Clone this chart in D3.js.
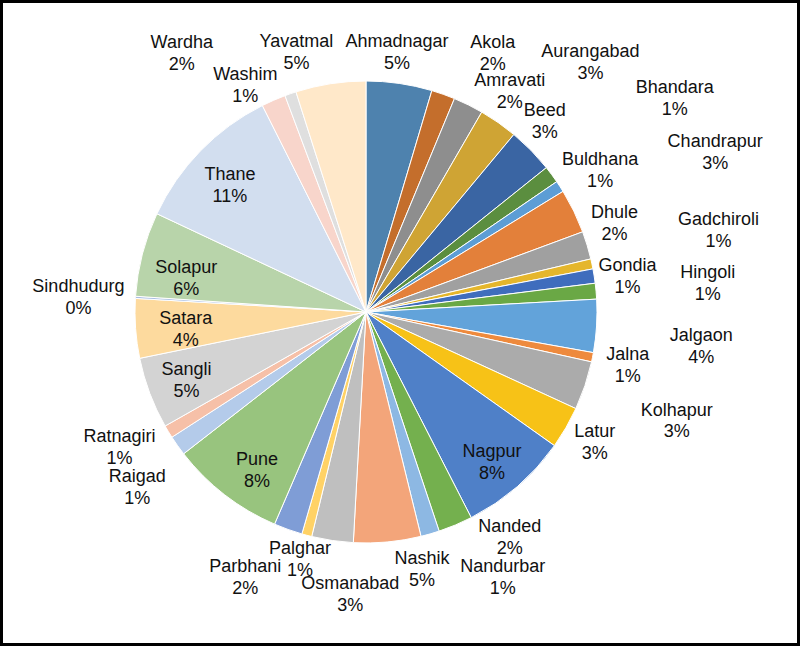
<!DOCTYPE html>
<html>
<head>
<meta charset="utf-8">
<script src="https://cdn.jsdelivr.net/npm/d3@7/dist/d3.min.js"></script>
<style>
  html, body { margin: 0; padding: 0; background: #fff; }
  svg { display: block; }
  text { font-family: "Liberation Sans", Arial, sans-serif; font-size: 18px; fill: #111; }
</style>
</head>
<body>
<svg id="chart" width="800" height="646"></svg>
<script>
// ---- data ----
const districts = ["Ahmadnagar","Akola","Amravati","Aurangabad","Beed","Bhandara","Buldhana","Chandrapur",
  "Dhule","Gadchiroli","Gondia","Hingoli","Jalgaon","Jalna","Kolhapur","Latur","Nagpur","Nanded",
  "Nandurbar","Nashik","Osmanabad","Palghar","Parbhani","Pune","Raigad","Ratnagiri","Sangli","Satara",
  "Sindhudurg","Solapur","Thane","Wardha","Washim","Yavatmal"];
const shares = [4.6,1.65,2.1,2.7,3.2,1.2,0.8,3.1,
  1.95,0.7,1.0,1.1,3.7,0.65,3.4,2.95,7.65,2.4,
  1.3,4.7,2.9,0.7,2.0,8.0,1.4,0.9,5.0,4.15,
  0.15,5.9,10.6,1.7,0.8,4.9];
const sliceColors = ["#4E82AE","#C46E2C","#8E8E8E","#CFA434","#3A65A3","#5B8E3F","#5C9DD5","#E3803A",
  "#A0A0A0","#E5B62C","#3F6DBD","#6AA845","#62A3DA","#EE8A3D","#ABABAB","#F7C217","#4F80C8","#74B04E",
  "#8DB8E3","#F3A57A","#BFBFBF","#FFD266","#7F9DD6","#98C47E","#B4CBEA","#F6C0A8","#D3D3D3","#FDDA9E",
  "#A9BEE3","#B8D4AA","#D2DEEF","#F8D5CB","#DFDFDF","#FFE8C9"];
// label placement: [angle in degrees clockwise from 12 o'clock, distance from centre]
const labelPlacement = [[6.8,262],[26,289],[33,264],[41.9,336],[43,262],[55.2,376],[58.7,274],[65.4,384],
  [70.3,264],[76.9,362],[82.2,264],[85.1,343],[95.8,337],[101.4,267],[109.2,329],[119.6,263],[140,196],[147.4,267],
  [152.7,298],[167.7,263],[183.2,282],[195,255],[204.5,291],[214.6,192],[232.6,288],[241.3,281],[249.3,192],[264.6,181],
  [273,288],[280.7,183],[313,186],[324.6,318],[332,257],[345,269]];

// ---- chart ----
const W = 800, H = 646;
const cx = 366, cy = 312, R = 231;
const svg = d3.select("#chart");

svg.append("rect").attr("x", 1.5).attr("y", 1.5).attr("width", W - 3).attr("height", H - 3)
  .attr("fill", "#fff").attr("stroke", "#000").attr("stroke-width", 3);

const data = districts.map((name, i) => ({ name, value: shares[i], color: sliceColors[i], place: labelPlacement[i] }));
const total = d3.sum(shares);

const pie = d3.pie().sort(null).value(d => d.value).startAngle(0).endAngle(2 * Math.PI);
const arc = d3.arc().innerRadius(0).outerRadius(R);

const g = svg.append("g").attr("transform", `translate(${cx},${cy})`);
g.selectAll("path.slice").data(pie(data)).join("path")
  .attr("class", "slice")
  .attr("d", arc)
  .attr("fill", d => d.data.color)
  .attr("stroke", "#fff")
  .attr("stroke-width", 1);

const fmtPct = v => Math.round(v / total * 100) + "%";
const lbl = g.selectAll("text.lbl").data(data).join("text")
  .attr("class", "lbl")
  .attr("text-anchor", "middle")
  .attr("transform", d => {
    const a = d.place[0] * Math.PI / 180, r = d.place[1];
    return `translate(${r * Math.sin(a)},${-r * Math.cos(a)})`;
  });
lbl.append("tspan").attr("x", 0).attr("y", -11).attr("dy", "0.35em").text(d => d.name);
lbl.append("tspan").attr("x", 0).attr("y", 11).attr("dy", "0.35em").text(d => fmtPct(d.value));
</script>
</body>
</html>
